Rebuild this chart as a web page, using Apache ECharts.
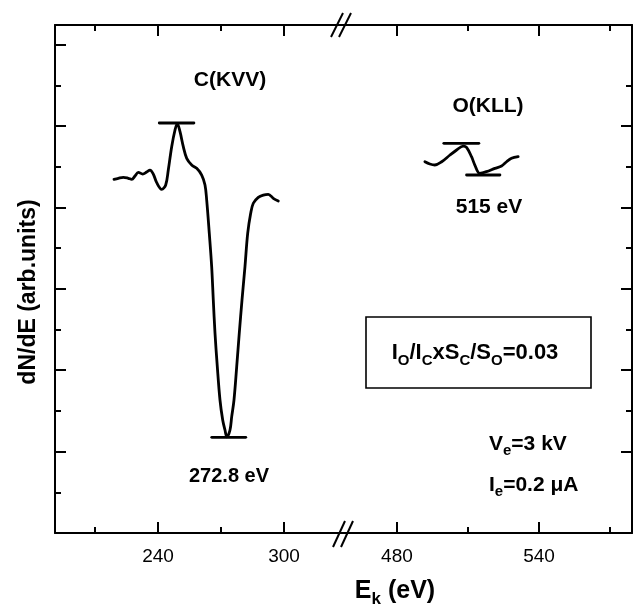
<!DOCTYPE html>
<html><head><meta charset="utf-8">
<script src="https://cdn.jsdelivr.net/npm/echarts@6/dist/echarts.min.js"></script>
<style>html,body{margin:0;padding:0;background:#fff}#c{width:634px;height:612px}</style>
</head><body><div id="c"></div>
<script>
// ---------- data ----------
// C(KVV) spectrum: [E_k (eV), dN/dE (arb. units)]
const cKVV = [
  [219.05,4.345],[221.10,4.358],[223.48,4.370],[225.86,4.358],[227.48,4.345],[229.05,4.386],
  [230.62,4.431],[232.71,4.410],[234.62,4.435],[236.19,4.459],[237.76,4.410],[239.38,4.304],
  [241.76,4.222],[243.67,4.275],[244.90,4.459],[246.52,4.746],[248.10,4.951],[249.19,5.030],
  [250.48,4.930],[252.05,4.746],[253.67,4.603],[256.05,4.521],[258.43,4.480],[260.81,4.398],
  [262.38,4.275],[263.19,4.091],[264.43,3.681],[265.57,3.268],[266.33,2.862],[267.14,2.457],
  [268.24,2.044],[269.52,1.634],[270.81,1.388],[271.90,1.265],[272.80,1.180],[274.29,1.265],
  [275.10,1.429],[276.19,1.634],[277.48,2.044],[278.71,2.457],[280.00,2.862],[281.43,3.276],
  [282.71,3.681],[284.14,3.927],[285.38,4.051],[287.76,4.124],[290.14,4.152],[292.52,4.161],
  [294.90,4.112],[297.29,4.079]
];
// O(KLL) spectrum
const oKLL = [
  [491.8,4.561],[493.9,4.533],[496.0,4.521],[498.9,4.561],[502.4,4.644],[505.2,4.705],
  [508.0,4.754],[509.4,4.738],[511.5,4.623],[512.9,4.521],[515.0,4.419],[517.8,4.439],
  [521.4,4.480],[524.2,4.509],[526.3,4.561],[528.4,4.603],[531.2,4.623]
];
// peak / minimum markers
const cPeakBar = [[240.6,5.037],[257.1,5.037]];
const cMinBar  = [[265.6,1.176],[281.8,1.176]];
const oTopBar  = [[499.8,4.787],[514.6,4.787]];
const oBotBar  = [[509.4,4.398],[523.5,4.398]];
// axes
const xLeftRange  = [190.95, 328.1];
const xRightRange = [457.2, 579.3];
const yRange = [0, 6.241];
const xLeftMajor = [240, 300], xLeftMinor = [210, 270];
const xRightMajor = [480, 540], xRightMinor = [510, 570];
const yMajor = [1, 2, 3, 4, 5, 6], yMinor = [0.5, 1.5, 2.5, 3.5, 4.5, 5.5];
const yRightMajor = [1, 2, 3, 4, 5], yRightMinor = [1.5, 2.5, 3.5, 4.5, 5.5];

// ---------- chart ----------
const FONT = '"Liberation Sans", Arial, Helvetica, sans-serif';
const BLACK = '#000';
const chart = echarts.init(document.getElementById('c'), null, {renderer: 'canvas'});

const G = {top: 25, height: 508, left0: 55, brk: 343, right: 632};

function xAx(grid, range, pos, ticks, len, line, labels) {
  const a = {
    type: 'value', gridIndex: grid, position: pos, min: range[0], max: range[1],
    axisLine: {show: line, onZero: false, lineStyle: {color: BLACK, width: 2}},
    axisTick: {show: true, inside: true, length: len, customValues: ticks, lineStyle: {color: BLACK, width: 2}},
    axisLabel: {show: !!labels, margin: 14, color: BLACK, fontSize: 19, fontFamily: FONT},
    splitLine: {show: false}
  };
  if (labels) a.axisLabel.customValues = labels;
  return a;
}
function yAx(grid, pos, ticks, len, line) {
  return {
    type: 'value', gridIndex: grid, position: pos, min: yRange[0], max: yRange[1],
    axisLine: {show: line, onZero: false, lineStyle: {color: BLACK, width: 2}},
    axisTick: {show: true, inside: true, length: len, customValues: ticks, lineStyle: {color: BLACK, width: 2}},
    axisLabel: {show: false},
    splitLine: {show: false}
  };
}
function lineSeries(data, xi, yi, smooth) {
  return {
    type: 'line', data: data, xAxisIndex: xi, yAxisIndex: yi, smooth: smooth,
    showSymbol: false, symbol: 'none', silent: true, animation: false, clip: false,
    lineStyle: {color: BLACK, width: 2.8, cap: 'round', join: 'round'}
  };
}

// rich styles: base tokens aligned top; subscript tokens pushed down by top padding
const rich = (bs, ss, drop) => ({
  b: {fontSize: bs, fontWeight: 'bold', fontFamily: FONT, fill: BLACK, verticalAlign: 'top'},
  s: {fontSize: ss, fontWeight: 'bold', fontFamily: FONT, fill: BLACK, verticalAlign: 'top', padding: [drop, 0, 0, 0]}
});
const plain = (x, y, t, size, align) => ({
  type: 'text', x: x, y: y, z: 10,
  style: {text: t, font: 'bold ' + size + 'px ' + FONT, fill: BLACK, align: align || 'center', verticalAlign: 'middle'}
});
const ln = (x1, y1, x2, y2) => ({
  type: 'line', z: 10, shape: {x1: x1, y1: y1, x2: x2, y2: y2}, style: {stroke: BLACK, lineWidth: 2}
});

chart.setOption({
  backgroundColor: '#fff',
  animation: false,
  grid: [
    {left: G.left0, top: G.top, width: G.brk - G.left0, height: G.height},
    {left: G.brk, top: G.top, width: G.right - G.brk, height: G.height},
    {left: G.left0, top: G.top, width: G.brk - G.left0, height: G.height},
    {left: G.brk, top: G.top, width: G.right - G.brk, height: G.height}
  ],
  xAxis: [
    xAx(0, xLeftRange, 'bottom', xLeftMajor, 11, true, xLeftMajor),
    xAx(0, xLeftRange, 'top', xLeftMajor, 11, true),
    xAx(1, xRightRange, 'bottom', xRightMajor, 11, true, xRightMajor),
    xAx(1, xRightRange, 'top', xRightMajor, 11, true),
    xAx(2, xLeftRange, 'bottom', xLeftMinor, 6, false),
    xAx(2, xLeftRange, 'top', xLeftMinor, 6, false),
    xAx(3, xRightRange, 'bottom', xRightMinor, 6, false),
    xAx(3, xRightRange, 'top', xRightMinor, 6, false)
  ],
  yAxis: [
    yAx(0, 'left', yMajor, 11, true),
    yAx(1, 'right', yRightMajor, 11, true),
    yAx(2, 'left', yMinor, 6, false),
    yAx(3, 'right', yRightMinor, 6, false)
  ],
  series: [
    lineSeries(cKVV, 0, 0, 0.35),
    lineSeries(cPeakBar, 0, 0, false),
    lineSeries(cMinBar, 0, 0, false),
    lineSeries(oKLL, 2, 1, 0.35),
    lineSeries(oTopBar, 2, 1, false),
    lineSeries(oBotBar, 2, 1, false)
  ],
  graphic: [
    // axis breaks
    ln(331, 37, 343, 13), ln(339, 37, 351, 13),
    ln(333, 547, 345, 521), ln(341, 547, 353, 521),
    // labels
    plain(230, 80, 'C(KVV)', 21),
    plain(488, 106, 'O(KLL)', 21),
    plain(489, 207, '515 eV', 21),
    plain(229, 476, '272.8 eV', 20),
    {type: 'rect', z: 10, shape: {x: 366, y: 317, width: 225, height: 71},
     style: {fill: 'none', stroke: BLACK, lineWidth: 1.6}},
    {type: 'text', x: 475, y: 355, z: 10,
     style: {text: '{b|I}{s|O}{b|/I}{s|C}{b|xS}{s|C}{b|/S}{s|O}{b|=0.03}', align: 'center', verticalAlign: 'middle',
             rich: rich(22, 15, 11)}},
    {type: 'text', x: 489, y: 446, z: 10,
     style: {text: '{b|V}{s|e}{b|=3 kV}', align: 'left', verticalAlign: 'middle', rich: rich(21, 15, 10)}},
    {type: 'text', x: 489, y: 487, z: 10,
     style: {text: '{b|I}{s|e}{b|=0.2 \u03bcA}', align: 'left', verticalAlign: 'middle', rich: rich(21, 15, 10)}},
    // axis titles
    {type: 'text', x: 29, y: 292, rotation: Math.PI / 2, z: 10,
     style: {text: 'dN/dE (arb.units)', font: 'bold 23px ' + FONT, fill: BLACK, align: 'center', verticalAlign: 'middle'}},
    {type: 'text', x: 395, y: 593, z: 10,
     style: {text: '{b|E}{s|k}{b| (eV)}', align: 'center', verticalAlign: 'middle', rich: rich(25, 17, 12)}}
  ]
});
</script>
</body></html>
